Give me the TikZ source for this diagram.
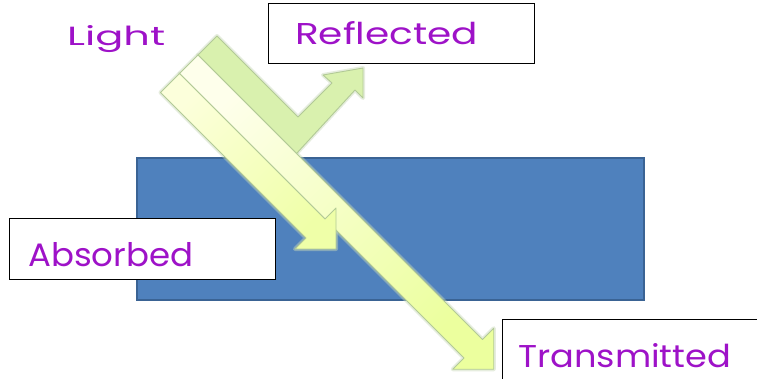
\documentclass[tikz,border=0pt]{standalone}
\usepackage{fontspec}
\setmainfont{Poppins}
\usetikzlibrary{calc}
\definecolor{slabblue}{HTML}{4F81BD}
\definecolor{slabedge}{HTML}{3A6394}
\definecolor{beamedge}{HTML}{B2CA96}
\definecolor{glow}{HTML}{C9D9B8}
\definecolor{reflectfill}{HTML}{D9F1AE}
\definecolor{inkpurple}{RGB}{158,18,200}
\tikzset{
  slab/.style={fill=slabblue, draw=slabedge, line width=1.2pt},
  beam/.style={draw=beamedge, line width=0.9pt, line join=round},
  beamglow/.style={draw=glow, line width=4pt, line join=round, opacity=0.45},
  labelbox/.style={draw=black, line width=1pt, fill=white},
  ink/.style={inner sep=0pt, text=inkpurple, anchor=base west},
}
\begin{document}
\begin{tikzpicture}[x=1pt, y=-1pt]
  \clip (0,0) rectangle (757,378);
  \fill[white] (0,0) rectangle (757,378);

  % the slab
  \draw[slab] (137,158) rectangle (644,300);

  % soft halo under the three beams
  \draw[beamglow] (217,36) -- (298,117) -- (332,83) -- (323,75) -- (363,68)
        -- (363,98) -- (355,90) -- (296.5,153.5) -- (198,55) -- cycle;
  \draw[beamglow] (198,55) -- (482.5,339.5) -- (493.75,328.25) -- (493.75,369.25)
        -- (452.75,369.25) -- (464,358) -- (179.5,73.5) -- cycle;
  \draw[beamglow] (179.5,73.5) -- (325,219) -- (336,208) -- (336,249)
        -- (295,249) -- (306,238) -- (160.5,92.5) -- cycle;

  % reflected beam
  \path[beam, fill=reflectfill]
    (217,36) -- (298,117) -- (332,83) -- (323,75) -- (363,68)
    -- (363,98) -- (355,90) -- (296.5,153.5) -- (198,55) -- cycle;

  % transmitted beam
  \path[beam, top color=green!5!yellow!8!white, bottom color=green!20!yellow!38!white,
        shading angle=45]
    (198,55) -- (482.5,339.5) -- (493.75,328.25) -- (493.75,369.25)
    -- (452.75,369.25) -- (464,358) -- (179.5,73.5) -- cycle;

  % absorbed beam
  \path[beam, top color=green!8!yellow!14!white, bottom color=green!18!yellow!34!white,
        shading angle=45]
    (179.5,73.5) -- (325,219) -- (336,208) -- (336,249)
    -- (295,249) -- (306,238) -- (160.5,92.5) -- cycle;

  % label boxes
  \draw[labelbox] (268,3) rectangle (534,63);
  \draw[labelbox] (9,218) rectangle (275,279);
  \draw[labelbox] (502,319) rectangle (780,400);

  % labels
  \node[ink] (light) at (67,45) {\resizebox{98pt}{20pt}{Light}};
  \node[ink] (reflected) at (295,44) {\resizebox{183pt}{23pt}{Reflected}};
  \node[ink] (absorbed) at (28,266) {\resizebox{165pt}{24pt}{Absorbed}};
  \node[ink] (transmitted) at (518,367) {\resizebox{213pt}{24pt}{Transmitted}};
\end{tikzpicture}
\end{document}
